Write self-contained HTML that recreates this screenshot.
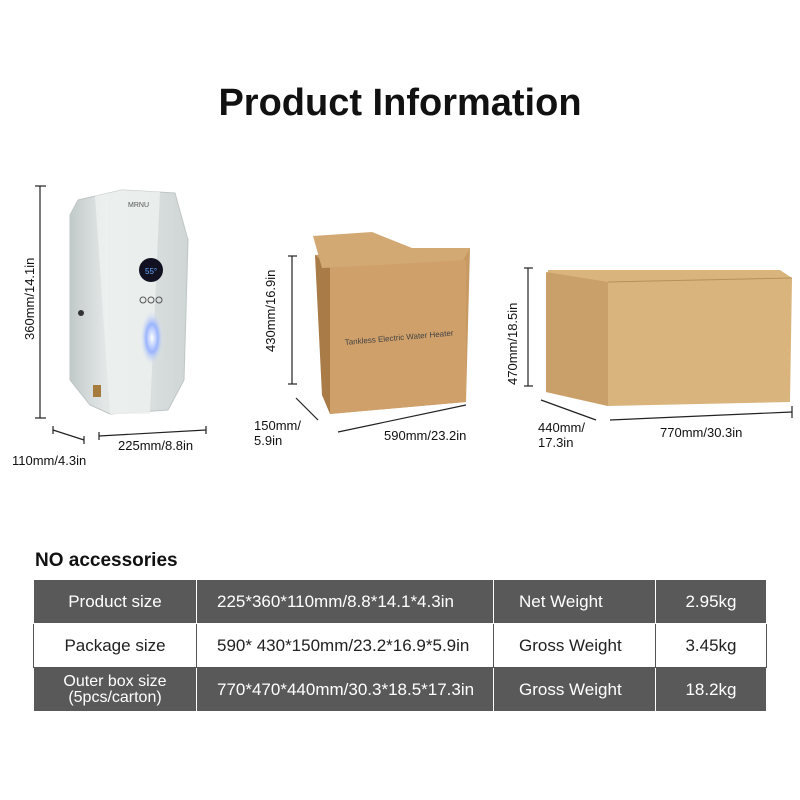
<!DOCTYPE html>
<html><head><meta charset="utf-8"><style>
html,body{margin:0;padding:0;background:#fff;width:800px;height:800px;overflow:hidden;font-family:"Liberation Sans",Arial,sans-serif;}
.t{position:absolute;color:#111;}
table{position:absolute;left:33px;top:579px;border-collapse:collapse;width:734px;}
td{height:43px;border:1px solid #ccc;text-align:center;font-size:17px;padding:0;}
td.l{text-align:left;padding-left:20px;}
td.l2{text-align:left;padding-left:25px;}
tr.d td{background:#595959;color:#fff;border-color:#fff;}
tr.w td{background:#fff;color:#222;border-color:#555;}
</style></head><body>
<div class="t" style="left:0;width:800px;top:82px;text-align:center;font-size:38px;font-weight:bold;">Product Information</div>
<svg width="800" height="560" style="position:absolute;left:0;top:0">
<defs>
<linearGradient id="hb" x1="0" x2="1"><stop offset="0" stop-color="#c2cac9"/><stop offset=".3" stop-color="#e3e8e7"/><stop offset="1" stop-color="#cfd6d5"/></linearGradient>
<radialGradient id="glow"><stop offset="0" stop-color="#fff"/><stop offset=".5" stop-color="#9ab4ff"/><stop offset="1" stop-color="#e6ebea" stop-opacity="0"/></radialGradient>
</defs>
<g stroke="#222" stroke-width="1.2" fill="none">
<line x1="40" y1="186" x2="40" y2="418"/><line x1="35" y1="186" x2="46" y2="186"/><line x1="35" y1="418" x2="46" y2="418"/>
<line x1="53" y1="430" x2="84" y2="440"/><line x1="53" y1="426" x2="53" y2="434"/><line x1="84" y1="436" x2="84" y2="444"/>
<line x1="99" y1="436" x2="206" y2="430"/><line x1="99" y1="432" x2="99" y2="440"/><line x1="206" y1="426" x2="206" y2="434"/>
<line x1="292" y1="256" x2="292" y2="384"/><line x1="288" y1="256" x2="297" y2="256"/><line x1="288" y1="384" x2="297" y2="384"/>
<line x1="296" y1="398" x2="318" y2="420"/>
<line x1="338" y1="432" x2="466" y2="405"/>
<line x1="528" y1="268" x2="528" y2="386"/><line x1="524" y1="268" x2="533" y2="268"/><line x1="524" y1="386" x2="533" y2="386"/>
<line x1="541" y1="400" x2="596" y2="420"/>
<line x1="610" y1="420" x2="792" y2="412"/><line x1="792" y1="406" x2="792" y2="418"/>
</g>
<path d="M78 200 L122 190 L175 193 L188 240 L184 380 L168 410 L110 414 L90 405 L70 380 L70 215 Z" fill="url(#hb)" stroke="#bfc6c5"/>
<path d="M95 196 L122 190 L160 192 L150 414 L110 414 Z" fill="#edf1f0" opacity=".8"/>
<circle cx="151" cy="270" r="12" fill="#112"/>
<text x="145" y="274" font-size="8" fill="#6af">55°</text>
<circle cx="143" cy="300" r="3" fill="none" stroke="#555"/><circle cx="151" cy="300" r="3" fill="none" stroke="#555"/><circle cx="159" cy="300" r="3" fill="none" stroke="#555"/>
<ellipse cx="152" cy="338" rx="12" ry="28" fill="url(#glow)"/>
<circle cx="81" cy="313" r="3" fill="#333"/>
<rect x="93" y="385" width="8" height="12" fill="#a67c3e"/>
<text x="128" y="207" font-size="7" fill="#555">MRNU</text>
<polygon points="315,255 470,248 466,402 330,414" fill="#c79a63"/>
<polygon points="315,255 330,268 330,414 322,395" fill="#a87b47"/>
<polygon points="313,236 372,232 412,248 470,248 462,262 322,268" fill="#d2a873"/>
<polygon points="330,268 466,260 466,402 330,414" fill="#cfa06a"/>
<text x="345" y="345" font-size="8" fill="#444" transform="rotate(-5 345 345)">Tankless Electric Water Heater</text>
<polygon points="548,270 780,270 792,278 790,402 608,406 546,392" fill="#d9b47c"/>
<polygon points="546,272 608,282 608,406 546,392" fill="#c9a069"/>
<line x1="608" y1="282" x2="792" y2="278" stroke="#b8905a"/>
</svg>
<div class="t" style="left:22px;top:190px;font-size:13px;transform-origin:0 0;transform:rotate(-90deg) translate(-150px,0);">360mm/14.1in</div>
<div class="t" style="left:12px;top:453px;font-size:13px;">110mm/4.3in</div>
<div class="t" style="left:118px;top:438px;font-size:13px;">225mm/8.8in</div>
<div class="t" style="left:263px;top:352px;font-size:13px;transform-origin:0 0;transform:rotate(-90deg);">430mm/16.9in</div>
<div class="t" style="left:254px;top:418px;font-size:13px;line-height:15px;">150mm/<br>5.9in</div>
<div class="t" style="left:384px;top:428px;font-size:13px;">590mm/23.2in</div>
<div class="t" style="left:505px;top:385px;font-size:13px;transform-origin:0 0;transform:rotate(-90deg);">470mm/18.5in</div>
<div class="t" style="left:538px;top:420px;font-size:13px;line-height:15px;">440mm/<br>17.3in</div>
<div class="t" style="left:660px;top:425px;font-size:13px;">770mm/30.3in</div>
<div class="t" style="left:35px;top:550px;font-size:19px;font-weight:bold;">NO accessories</div>
<table>
<tr class="d"><td style="width:162px">Product size</td><td class="l" style="width:276px">225*360*110mm/8.8*14.1*4.3in</td><td class="l2" style="width:136px">Net Weight</td><td>2.95kg</td></tr>
<tr class="w"><td>Package size</td><td class="l">590* 430*150mm/23.2*16.9*5.9in</td><td class="l2">Gross Weight</td><td>3.45kg</td></tr>
<tr class="d"><td style="line-height:16px;font-size:16px">Outer box size<br>(5pcs/carton)</td><td class="l">770*470*440mm/30.3*18.5*17.3in</td><td class="l2">Gross Weight</td><td>18.2kg</td></tr>
</table>
</body></html>
